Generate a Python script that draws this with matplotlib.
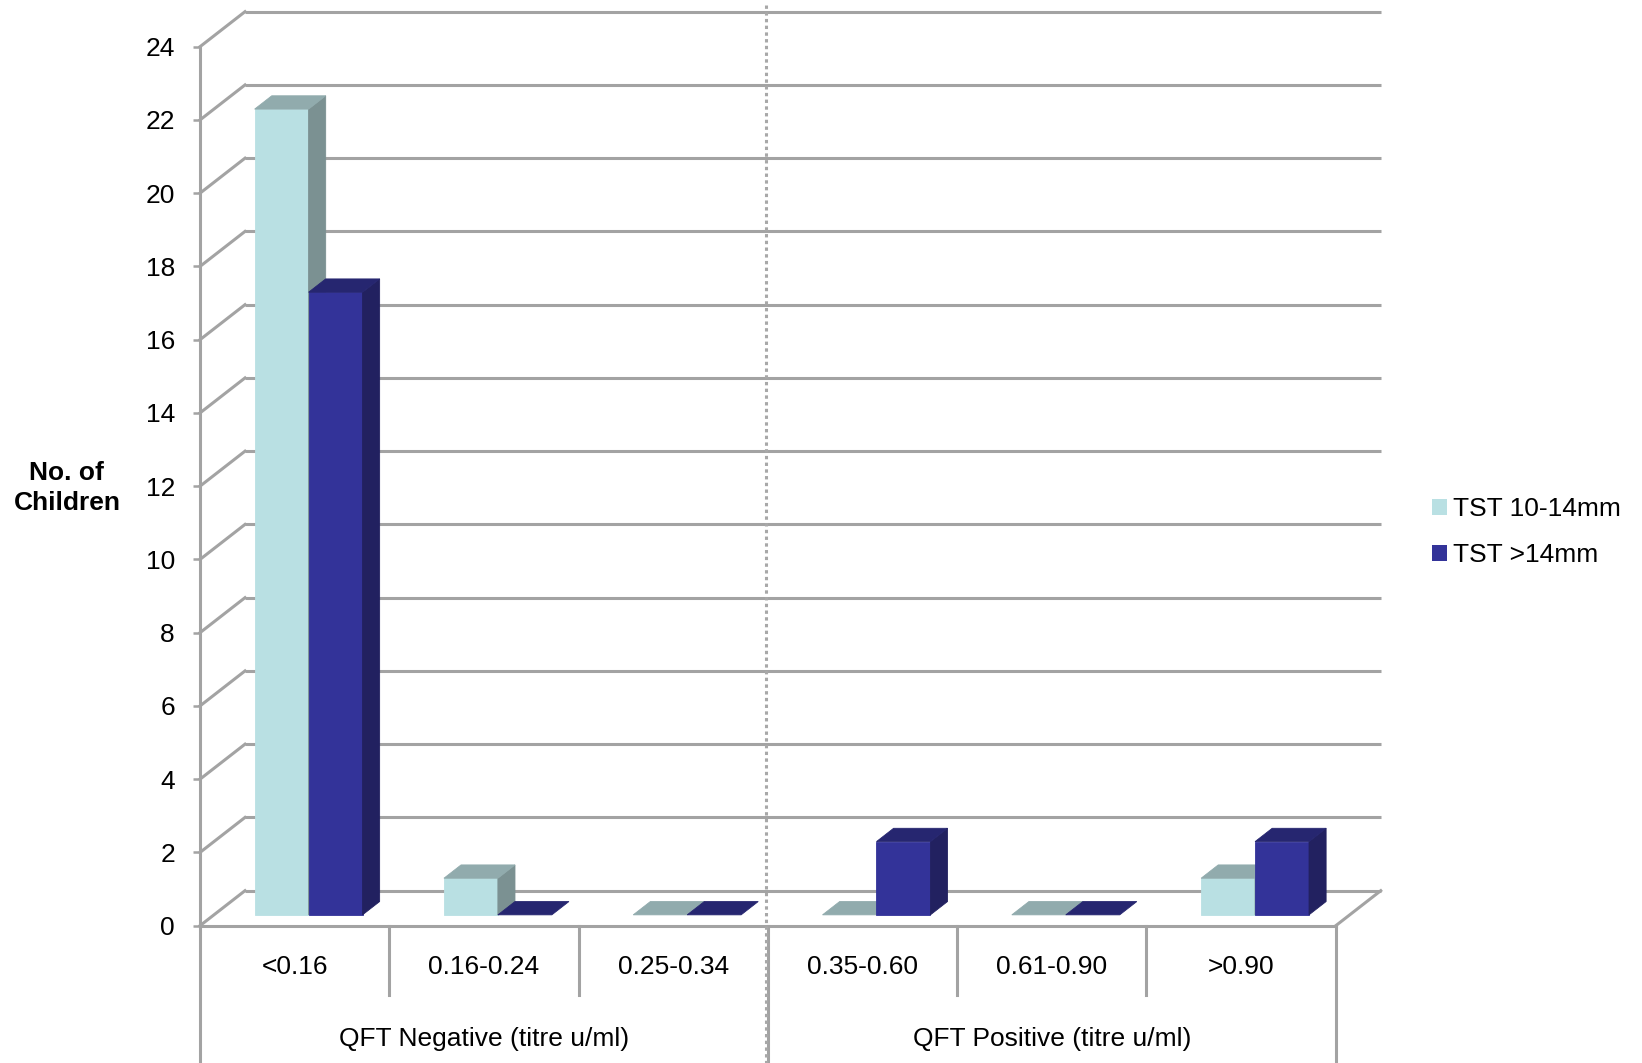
import matplotlib
matplotlib.use("Agg")
import matplotlib.pyplot as plt
from matplotlib.patches import Polygon, Patch

# ---- data ----
categories = ["<0.16", "0.16-0.24", "0.25-0.34", "0.35-0.60", "0.61-0.90", ">0.90"]
groups = ["QFT Negative (titre u/ml)", "QFT Positive (titre u/ml)"]
series_names = ["TST 10-14mm", "TST >14mm"]
tst_10_14 = [22, 1, 0, 0, 0, 1]
tst_over_14 = [17, 0, 0, 2, 0, 2]
y_ticks = list(range(0, 25, 2))

plt.rcParams["font.family"] = ["Liberation Sans", "DejaVu Sans"]
FS = 19
GRID = "#A3A3A3"

fig = plt.figure(figsize=(16.42, 10.63), dpi=100)
# axes = front plane of the 3-D box
ax = fig.add_axes([0.1218, 0.12916, 0.6917, 0.82691])
ax.set_xlim(0, 6)
ax.set_ylim(0, 24)
ax.set_facecolor("none")

# depth of the box (oblique projection) in data units
DX, DY = 0.2377, 0.956


def proj(x, y, z):
    return (x + z * DX, y + z * DY)


# back wall gridlines and side-wall connectors
for v in y_ticks:
    ax.plot([DX, 6 + DX], [v + DY, v + DY], color=GRID, lw=2.2,
            clip_on=False, zorder=1, solid_capstyle="butt")
    ax.plot([0, DX], [v, v + DY], color=GRID, lw=2.2, clip_on=False, zorder=1)
# right edge of the floor
ax.plot([6, 6 + DX], [0, DY], color=GRID, lw=2.2, clip_on=False, zorder=1)

# front axis lines
for side in ["top", "right"]:
    ax.spines[side].set_visible(False)
for side in ["left", "bottom"]:
    ax.spines[side].set_color(GRID)
    ax.spines[side].set_linewidth(2.2)
    ax.spines[side].set_zorder(2)

ax.set_yticks(y_ticks)
ax.set_yticklabels([str(v) for v in y_ticks], fontsize=FS)
ax.tick_params(axis="y", direction="out", length=5, width=1.8, color=GRID,
               pad=13, labelcolor="black")
ax.set_xticks([])

# category separators below the floor
for k in range(1, 6):
    if k == 3:
        continue
    ax.plot([k, k], [0, -1.89], color=GRID, lw=2.2, clip_on=False, zorder=1)
for k in [0, 3, 6]:
    ax.plot([k, k], [0, -4.5], color=GRID, lw=2.2, clip_on=False, zorder=1)

# dotted divider between negative and positive QFT
ax.plot([2.989, 2.989], [25.15, -4.5], color="#A8A8A8", lw=2.2,
        linestyle=(0, (1.1, 1.1)), clip_on=False, zorder=5)

# category and group labels
for i, c in enumerate(categories):
    ax.text(i + 0.5, -1.12, c, ha="center", va="center", fontsize=FS,
            clip_on=False)
for j, g in enumerate(groups):
    ax.text(1.5 + 3 * j, -3.1, g, ha="center", va="center", fontsize=FS,
            clip_on=False)

ax.text(-0.703, 11.95, "No. of\nChildren", ha="center", va="center",
        fontsize=FS, fontweight="bold", linespacing=1.3, clip_on=False)

# 3-D bars
styles = [
    {"front": "#B9E0E3", "top": "#91ABAD", "side": "#7B9192"},
    {"front": "#333399", "top": "#262670", "side": "#222160"},
]
BAR_W = 0.285
GAP = 0.215
Z0, Z1 = 0.31, 0.69


def bar3d(x0, w, h, st, zo):
    x1 = x0 + w
    faces = []
    if h > 0:
        faces.append(([proj(x0, 0, Z0), proj(x1, 0, Z0), proj(x1, h, Z0),
                       proj(x0, h, Z0)], st["front"]))
        faces.append(([proj(x1, 0, Z0), proj(x1, 0, Z1), proj(x1, h, Z1),
                       proj(x1, h, Z0)], st["side"]))
    faces.append(([proj(x0, h, Z0), proj(x1, h, Z0), proj(x1, h, Z1),
                   proj(x0, h, Z1)], st["top"]))
    for pts, col in faces:
        ax.add_patch(Polygon(pts, closed=True, facecolor=col, edgecolor=col,
                             lw=0.6, zorder=zo, clip_on=False))


zo = 3
for i in range(len(categories)):
    for s, vals in enumerate([tst_10_14, tst_over_14]):
        bar3d(i + GAP + s * BAR_W, BAR_W, vals[i], styles[s], zo)
        zo += 0.01

# legend
handles = [Patch(facecolor=styles[s]["front"], edgecolor="none",
                 label=series_names[s]) for s in range(2)]
fig.legend(handles=handles, loc="upper left",
           bbox_to_anchor=(1432 / 1642, 1 - 497 / 1063),
           frameon=False, fontsize=FS, handlelength=0.55, handleheight=0.55,
           handletextpad=0.25, labelspacing=0.85, borderpad=0, borderaxespad=0)

fig.savefig("out.png", dpi=100)
